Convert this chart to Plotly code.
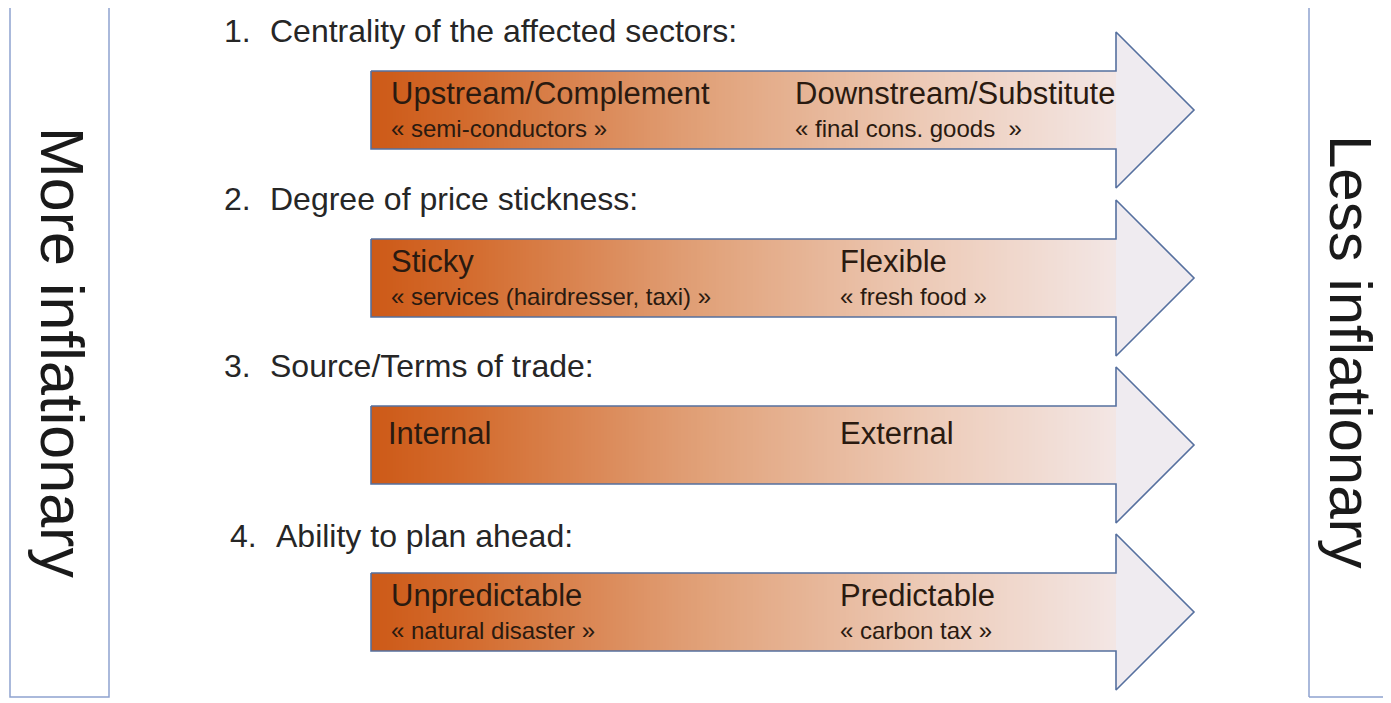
import numpy as np
import plotly.graph_objects as go

# diagram content
numbers = ["1.", "2.", "3.", "4."]
headings = ["Centrality of the affected sectors:", "Degree of price stickness:",
            "Source/Terms of trade:", "Ability to plan ahead:"]
left_labels = ["Upstream/Complement", "Sticky", "Internal", "Unpredictable"]
left_subs = ["« semi-conductors »", "« services (hairdresser, taxi) »", "", "« natural disaster »"]
right_labels = ["Downstream/Substitute", "Flexible", "External", "Predictable"]
right_subs = ["« final cons. goods  »", "« fresh food »", "", "« carbon tax »"]
side_left = "More inflationary"
side_right = "Less inflationary"

# layout (pixel space, page has an 8px body margin)
W, H = 1391, 703
OFF = 8
centers = [110, 278, 445, 612]
body_x0, head_x0, tip_x = 371, 1116, 1194
body_half, head_half = 39, 78
heading_x = [222, 222, 222, 228]
right_x = [793, 838, 838, 838]
left_x = [389, 389, 386, 389]

grad_scale = [[0.0, "#CD5A18"], [0.12, "#D36A2C"], [0.45, "#E1A27A"],
              [0.75, "#EDCBB8"], [1.0, "#F3E6E4"]]
outline = "#56709F"
txt_dark = "#2A1A10"

fig = go.Figure()
n = 240
xs = np.linspace(body_x0, head_x0, n + 1)
for i, c in enumerate(centers):
    top, bot = c - body_half, c + body_half
    fig.add_trace(go.Heatmap(x=xs, y=[top, bot], z=[np.linspace(0, 1, n)],
                             colorscale=grad_scale, showscale=False, hoverinfo="skip"))
    # head
    fig.add_trace(go.Scatter(x=[head_x0, tip_x, head_x0, head_x0],
                             y=[c - head_half, c, c + head_half, c - head_half],
                             mode="lines", fill="toself", fillcolor="#EFEBF0",
                             line=dict(width=0), hoverinfo="skip", showlegend=False))
    # outline
    fig.add_trace(go.Scatter(
        x=[body_x0, head_x0, head_x0, tip_x, head_x0, head_x0, body_x0, body_x0],
        y=[top, top, c - head_half, c, c + head_half, bot, bot, top],
        mode="lines", line=dict(color=outline, width=1.6),
        hoverinfo="skip", showlegend=False))

    hy = c - 79 if i < 3 else c - 76
    fig.add_annotation(x=heading_x[i], y=hy, text=numbers[i], showarrow=False,
                       xanchor="left", yanchor="middle",
                       font=dict(size=32, color="#262626"))
    fig.add_annotation(x=heading_x[i] + 46, y=hy, text=headings[i], showarrow=False,
                       xanchor="left", yanchor="middle",
                       font=dict(size=32, color="#262626"))

    has_sub = left_subs[i] != ""
    ly = c - 17 if has_sub else c - 12
    for lx, lab, sub in [(left_x[i], left_labels[i], left_subs[i]),
                         (right_x[i], right_labels[i], right_subs[i])]:
        fig.add_annotation(x=lx, y=ly, text=lab, showarrow=False,
                           xanchor="left", yanchor="middle",
                           font=dict(size=31, color=txt_dark))
        if sub:
            fig.add_annotation(x=lx, y=c + 18, text=sub, showarrow=False,
                               xanchor="left", yanchor="middle",
                               font=dict(size=24, color=txt_dark))

# side boxes (the right one runs off the page)
box_line = dict(color="#8EA2CF", width=1.5)
fig.add_shape(type="rect", x0=10, x1=109, y0=3, y1=697, line=box_line, layer="below")
for x0, y0, x1, y1 in [(1309, 3, 1309, 697), (1309, 3, W, 3), (1309, 697, W, 697)]:
    fig.add_shape(type="line", x0=x0, y0=y0, x1=x1, y1=y1, line=box_line, layer="below")
fig.add_annotation(x=62, y=352, text=side_left, textangle=90, showarrow=False,
                   font=dict(size=61, color="#1A1A1A"))
fig.add_annotation(x=1351, y=352, text=side_right, textangle=90, showarrow=False,
                   font=dict(size=60, color="#1A1A1A"))

fig.update_layout(
    width=W - OFF, height=H - OFF, margin=dict(l=0, r=0, t=0, b=0),
    paper_bgcolor="white", plot_bgcolor="white",
    font=dict(family="Liberation Sans, Arial, sans-serif"),
    xaxis=dict(range=[OFF, W], visible=False, fixedrange=True),
    yaxis=dict(range=[H, OFF], visible=False, fixedrange=True),
    showlegend=False,
)
fig.write_html("out.html")
